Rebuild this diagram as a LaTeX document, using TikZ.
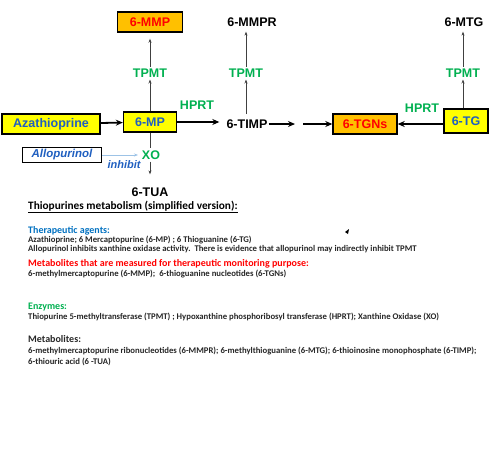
\documentclass[tikz,border=0pt]{standalone}
\usepackage{fontspec}
\setmainfont{Liberation Sans}
\newfontfamily\calfont{Carlito}
\usetikzlibrary{arrows.meta}
\definecolor{ybox}{HTML}{FFFF00}
\definecolor{obox}{HTML}{FFC000}
\definecolor{dblue}{HTML}{1F5FC0}
\definecolor{hblue}{HTML}{0070C0}
\definecolor{enzg}{HTML}{00B050}
\definecolor{lblue}{HTML}{9DC3E6}
\definecolor{txt}{HTML}{262626}
\tikzset{
  x=1pt,y=-1pt,
  lab/.style={font=\fontsize{12.5}{14}\selectfont\bfseries, inner sep=1pt},
  boxy/.style={lab, draw=black, line width=1.4pt, fill=ybox, text=dblue, minimum height=20pt, inner xsep=4pt},
  boxo/.style={lab, draw=black, line width=1.4pt, fill=obox, text=red, minimum height=20pt, inner xsep=4pt},
  enz/.style={lab, text=enzg, fill=white, inner sep=2pt},
  met/.style={lab, text=black},
  thin/.style={draw=black!75, line width=0.7pt, -{Stealth[length=4pt,width=3pt]}},
  thick/.style={draw=black, line width=1.8pt, -{Stealth[length=7pt,width=6pt]}},
  para/.style={anchor=west, inner sep=0pt, font=\calfont\fontsize{8.7}{10}\selectfont\bfseries, text=txt},
  head/.style={anchor=west, inner sep=0pt, font=\calfont\fontsize{10}{12}\selectfont\bfseries},
}
\begin{document}
\begin{tikzpicture}
\useasboundingbox (0,0) rectangle (495,448);
% nodes
\node[boxy, minimum width=98pt] (aza) at (51,124) {Azathioprine};
\node[boxy, minimum width=53pt] (mp) at (150,122) {6-MP};
\node[boxo, minimum width=65pt] (mmp) at (150,22) {6-MMP};
\node[met] (timp) at (247,124) {6-TIMP};
\node[met] (mmpr) at (252,22) {6-MMPR};
\node[boxo, minimum width=64pt] (tgn) at (365,124) {6-TGNs};
\node[boxy, minimum width=44pt, minimum height=24pt] (tg) at (466,121) {6-TG};
\node[met] (mtg) at (464,22) {6-MTG};
\node[met] (tua) at (150,192) {6-TUA};
\node[lab, draw=black, line width=1.2pt, fill=white, text=dblue, font=\fontsize{11.5}{13}\selectfont\bfseries\itshape, minimum width=79pt, minimum height=15pt] (allo) at (62,155) {Allopurinol};
\node[enz] (xo) at (151,155) {XO};
\node[enz] (t1) at (150,73) {TPMT};
\node[enz] (t2) at (246,73) {TPMT};
\node[enz] (t3) at (463,73) {TPMT};
\node[lab, text=enzg] (h1) at (197,105) {HPRT};
\node[lab, text=enzg] (h2) at (422,108) {HPRT};
\node[lab, text=dblue, font=\fontsize{11}{13}\selectfont\bfseries\itshape] (inh) at (124,165) {inhibit};
\coordinate (g1) at (295,124);
\coordinate (g2) at (303,124);
\coordinate (xi) at (138,155);
\coordinate (tb) at (246,114);
% connectors
\draw[thick] (aza) -- (mp);
\draw[thick] (mp.east) -- ([xshift=-6pt]timp.west |- mp.east);
\draw[thick] (timp.east) -- (g1);
\draw[thick] (g2) -- (tgn.west);
\draw[thick] (tg.west |- tgn) -- (tgn.east);
\draw[thin] (mp.north) -- (t1.south);
\draw[thin, shorten >=6pt] (t1.north) -- (mmp.south);
\draw[thin] (tb) -- (t2.south);
\draw[thin] (t2.north) -- ([yshift=-4pt]t2.north |- mmpr.south);
\draw[thin] (tg.north -| t3) -- (t3.south);
\draw[thin] (t3.north) -- ([yshift=-4pt]t3.north |- mtg.south);
\draw[draw=black!75, line width=0.7pt] (mp.south) -- (xo.north -| mp.south);
\draw[thin, shorten >=12pt] (xo.south -| mp.south) -- (tua.north -| mp.south);
\draw[draw=lblue, line width=0.8pt, -{Stealth[length=4pt,width=3pt]}] (allo.east) -- (xi);
% cursor mark
\fill (345,232) -- (349,229) -- (348,234) -- cycle;
% text block
\node[head, text=black, font=\calfont\fontsize{11.3}{13}\selectfont\bfseries] (ttl) at (28,207) {\underline{Thiopurines metabolism (simplified version):}};
\node[head, text=hblue] (p1h) at (28,231) {Therapeutic agents:};
\node[para] (p1a) at (28,240) {Azathioprine; 6 Mercaptopurine (6-MP) ; 6 Thioguanine (6-TG)};
\node[para] (p1b) at (28,249) {Allopurinol inhibits xanthine oxidase activity.\ \ There is evidence that allopurinol may indirectly inhibit TPMT};
\node[head, text=red] (p2h) at (28,264) {Metabolites that are measured for therapeutic monitoring purpose:};
\node[para] (p2a) at (28,274) {6-methylmercaptopurine (6-MMP);\ \ 6-thioguanine nucleotides (6-TGNs)};
\node[head, text=enzg] (p3h) at (28,307) {Enzymes:};
\node[para] (p3a) at (28,317) {Thiopurine 5-methyltransferase (TPMT) ; Hypoxanthine phosphoribosyl transferase (HPRT); Xanthine Oxidase (XO)};
\node[head, text=txt] (p4h) at (28,339) {Metabolites:};
\node[para] (p4a) at (28,351) {6-methylmercaptopurine ribonucleotides (6-MMPR); 6-methylthioguanine (6-MTG); 6-thioinosine monophosphate (6-TIMP);};
\node[para] (p4b) at (28,362) {6-thiouric acid (6 -TUA)};
\end{tikzpicture}
\end{document}
